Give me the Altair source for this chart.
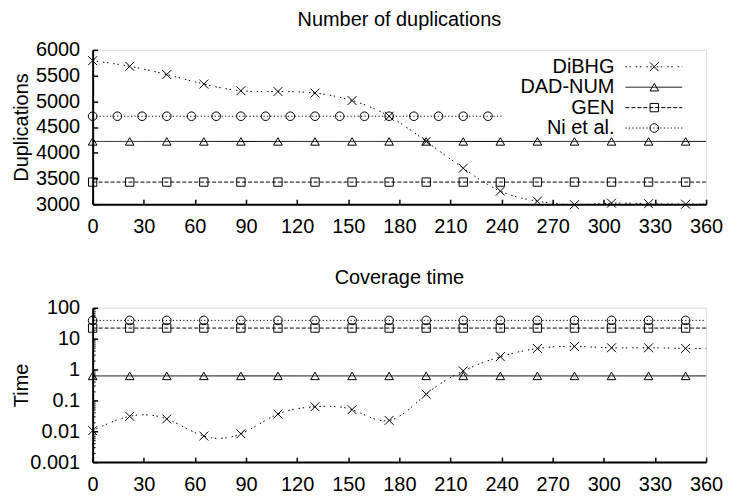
import altair as alt
import pandas as pd

FONT = "Liberation Sans"

# ---------------- data ----------------
series = ["DiBHG", "DAD-NUM", "GEN", "Ni et al."]

x_marks = [0, 21.75, 43.5, 65.25, 87, 108.75, 130.5, 152.25, 174, 195.75,
           217.5, 239.25, 261, 282.75, 304.5, 326.25, 348]
x_ni_top = [0, 14.5, 29, 43.5, 58, 72.5, 87, 101.5, 116, 130.5, 145, 159.5,
            174, 188.5, 203, 217.5, 232]
x_start = 0
x_end = 360
x_ni_top_end = 240

# Number of duplications
dup_dibhg = [5790, 5680, 5520, 5335, 5205, 5190, 5160, 5015, 4710, 4220,
             3700, 3255, 3060, 2990, 3020, 3010, 3000]
dup_dibhg_end = 3000
dup_dadnum = 4220
dup_gen = 3430
dup_ni = 4710

# Coverage time
time_dibhg = [0.0105, 0.0305, 0.025, 0.007, 0.0083, 0.036, 0.062, 0.05,
              0.0224, 0.158, 0.9, 2.6, 4.8, 5.6, 5.06, 5.06, 4.8]
time_dibhg_end = 4.8
time_dadnum = 0.62
time_gen = 22
time_ni = 39

x_ticks = [0, 30, 60, 90, 120, 150, 180, 210, 240, 270, 300, 330, 360]
dup_ticks = [3000, 3500, 4000, 4500, 5000, 5500, 6000]
time_ticks = [0.001, 0.01, 0.1, 1, 10, 100]
time_minor = [0.002, 0.003, 0.004, 0.005, 0.006, 0.007, 0.008, 0.009,
              0.02, 0.03, 0.04, 0.05, 0.06, 0.07, 0.08, 0.09,
              0.2, 0.3, 0.4, 0.5, 0.6, 0.7, 0.8, 0.9,
              2, 3, 4, 5, 6, 7, 8, 9,
              20, 30, 40, 50, 60, 70, 80, 90]

# ---------------- style ----------------
W, H = 616, 155
X_PATH = "M-1,-1L1,1M-1,1L1,-1"
style = {
    "DiBHG":     dict(dash=[1.5, 2.5, 1.5, 5], shape=X_PATH, size=80, interp="natural"),
    "DAD-NUM":   dict(dash=[1, 0], shape="triangle-up", size=75, interp="linear"),
    "GEN":       dict(dash=[4, 2], shape="square", size=70, interp="linear"),
    "Ni et al.": dict(dash=[1.2, 2.3], shape="circle", size=75, interp="linear"),
}

xscale = alt.Scale(domain=[0, 360], nice=False, zero=False)


def main_axes(yvals, ytitle, fmt):
    ax = alt.Axis(values=x_ticks, tickSize=0, domainWidth=2, domainColor="black",
                  labelFontSize=20, labelFont=FONT, labelColor="black",
                  labelPadding=12, labelFlush=False, labelOverlap=False,
                  grid=False, title=None)
    ay = alt.Axis(values=yvals, tickSize=0, domainWidth=2, domainColor="black",
                  labelFontSize=20, labelFont=FONT, labelColor="black",
                  labelPadding=13, labelFlush=False, labelOverlap=False,
                  grid=False, format=fmt, title=ytitle, titleFontSize=20,
                  titleFont=FONT, titleFontWeight="normal", titleColor="black",
                  titleX=-71, titleY=H / 2, titleAngle=270, titleAlign="center",
                  titleBaseline="middle")
    return ax, ay


def tick_axes(yvals, size):
    ax = alt.Axis(orient="top", offset=-H, values=x_ticks, tickSize=5,
                  tickWidth=1.5, tickColor="black", labels=False, domain=False,
                  grid=False, title=None)
    ay = alt.Axis(orient="right", offset=-W, values=yvals, tickSize=size,
                  tickWidth=1.5, tickColor="black", labels=False, domain=False,
                  grid=False, title=None)
    return ax, ay


def panel(title, ytitle, yscale, yvals, fmt, lines, marks, minor=None, legend=False):
    layers = []
    axes = [main_axes(yvals, ytitle, fmt), tick_axes(yvals, 5)]
    if minor is not None:
        axes.append((None, alt.Axis(orient="right", offset=-W, values=minor,
                                    tickSize=2.5, tickWidth=1, tickColor="black",
                                    labels=False, domain=False, grid=False,
                                    title=None)))
    i = 0
    for s in series:
        st = style[s]
        lx, ly = lines[s]
        ldf = pd.DataFrame({"x": lx, "y": ly})
        ax, ay = axes[i] if i < len(axes) else (None, None)
        i += 1
        layers.append(
            alt.Chart(ldf).mark_line(color="black", strokeWidth=1,
                                     strokeDash=st["dash"], interpolate=st["interp"])
            .encode(x=alt.X("x:Q", scale=xscale, axis=ax),
                    y=alt.Y("y:Q", scale=yscale, axis=ay))
        )
        mx, my = marks[s]
        mdf = pd.DataFrame({"x": mx, "y": my})
        ax, ay = axes[i] if i < len(axes) else (None, None)
        i += 1
        layers.append(
            alt.Chart(mdf).mark_point(shape=st["shape"], filled=False, color="black",
                                      size=st["size"], strokeWidth=1, opacity=1)
            .encode(x=alt.X("x:Q", scale=xscale, axis=ax),
                    y=alt.Y("y:Q", scale=yscale, axis=ay))
        )
    if legend:
        for k, s in enumerate(series):
            st = style[s]
            ypos = 17 + 20.5 * k
            one = pd.DataFrame({"label": [s]})
            layers.append(alt.Chart(one).mark_text(align="right", baseline="middle",
                                                   fontSize=20, font=FONT, color="black")
                          .encode(x=alt.value(524), y=alt.value(ypos), text="label:N"))
            layers.append(alt.Chart(one).mark_rule(color="black", strokeWidth=1,
                                                   strokeDash=st["dash"])
                          .encode(x=alt.value(535), x2=alt.value(592), y=alt.value(ypos)))
            layers.append(alt.Chart(one).mark_point(shape=st["shape"], filled=False,
                                                    color="black", size=st["size"],
                                                    strokeWidth=1, opacity=1)
                          .encode(x=alt.value(564), y=alt.value(ypos)))
    return (alt.layer(*layers)
            .properties(width=W, height=H,
                        title=alt.TitleParams(title, fontSize=20, font=FONT,
                                              fontWeight="normal", color="black",
                                              anchor="middle", frame="group",
                                              offset=10))
            .resolve_axis(x="independent", y="independent"))


full_x = x_marks + [x_end]

top_lines = {
    "DiBHG": (full_x, dup_dibhg + [dup_dibhg_end]),
    "DAD-NUM": ([x_start, x_end], [dup_dadnum, dup_dadnum]),
    "GEN": ([x_start, x_end], [dup_gen, dup_gen]),
    "Ni et al.": ([x_start, x_ni_top_end], [dup_ni, dup_ni]),
}
top_marks = {
    "DiBHG": (x_marks, dup_dibhg),
    "DAD-NUM": (x_marks, [dup_dadnum] * len(x_marks)),
    "GEN": (x_marks, [dup_gen] * len(x_marks)),
    "Ni et al.": (x_ni_top, [dup_ni] * len(x_ni_top)),
}
bot_lines = {
    "DiBHG": (full_x, time_dibhg + [time_dibhg_end]),
    "DAD-NUM": ([x_start, x_end], [time_dadnum, time_dadnum]),
    "GEN": ([x_start, x_end], [time_gen, time_gen]),
    "Ni et al.": ([x_start, x_end], [time_ni, time_ni]),
}
bot_marks = {
    "DiBHG": (x_marks, time_dibhg),
    "DAD-NUM": (x_marks, [time_dadnum] * len(x_marks)),
    "GEN": (x_marks, [time_gen] * len(x_marks)),
    "Ni et al.": (x_marks, [time_ni] * len(x_marks)),
}

top = panel("Number of duplications", "Duplications",
            alt.Scale(domain=[3000, 6000], nice=False, zero=False),
            dup_ticks, "d", top_lines, top_marks, legend=True)
bottom = panel("Coverage time", "Time",
               alt.Scale(type="log", domain=[0.001, 100], nice=False),
               time_ticks, "~g", bot_lines, bot_marks, minor=time_minor)

chart = (alt.vconcat(top, bottom, spacing=30)
         .properties(padding={"left": 3, "top": 0, "right": 0, "bottom": 0})
         .configure_view(stroke=None)
         .configure(background="white"))

chart.save("out.html", embed_options={"renderer": "svg", "actions": False})
